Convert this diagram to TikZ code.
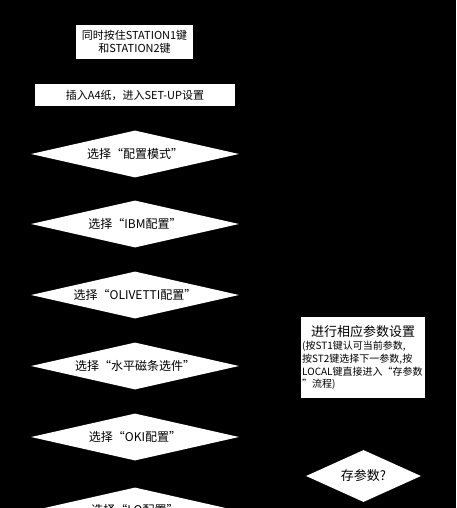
\documentclass[tikz,border=0pt]{standalone}
\usepackage{fontspec}
\setmainfont{Noto Sans CJK SC}
\usetikzlibrary{shapes.geometric, positioning}

\begin{document}
\begin{tikzpicture}[x=1pt, y=-1pt,
    procbox/.style={draw=none, fill=white, text=black, inner sep=1pt, align=center},
    choice/.style={diamond, aspect=4.4, fill=white, text=black, inner sep=0pt,
        minimum width=208pt, minimum height=47pt, font=\fontsize{12}{14}\selectfont}
    ]
        % Background and frame
        \fill[black] (0,0) rectangle (456,508);
        \useasboundingbox (0,0) rectangle (456,508);
        \begin{scope}
        \clip (0,0) rectangle (456,508);

        % Start boxes
        \node[procbox, minimum width=117pt, minimum height=34pt, font=\fontsize{11}{13}\selectfont]
            (start) at (134.5,42) {同时按住STATION1键\\和STATION2键};
        \node[procbox, minimum width=200pt, minimum height=22pt, font=\fontsize{11}{13}\selectfont]
            (insert) at (135,95) {插入A4纸，进入SET-UP设置};

        % Selection diamonds
        \node[choice] (cfgmode)  at (135,154) {选择“配置模式”};
        \node[choice] (ibm)      at (135,224) {选择“IBM配置”};
        \node[choice] (olivetti) at (135,295) {选择“OLIVETTI配置”};
        \node[choice] (hmag)     at (135,366) {选择“水平磁条选件”};
        \node[choice] (oki)      at (135,437) {选择“OKI配置”};
        \node[choice] (lq)       at (135,511) {选择“LQ配置”};

        % Parameter setting
        \node[procbox, minimum width=124pt, minimum height=81pt, anchor=north west,
            text width=122pt, align=left, inner sep=1pt]
            (params) at (301,317) {\centering\fontsize{13}{16}\selectfont 进行相应参数设置\par
            \raggedright\fontsize{10}{13}\selectfont (按ST1键认可当前参数,\\按ST2键选择下一参数,按\\LOCAL键直接进入“存参数\\”流程)};
        \node[choice, aspect=2.2, minimum width=115pt, minimum height=52pt, font=\fontsize{13}{15}\selectfont]
            (savep) at (363.5,476) {存参数?};
        \end{scope}
    \end{tikzpicture}
\end{document}
